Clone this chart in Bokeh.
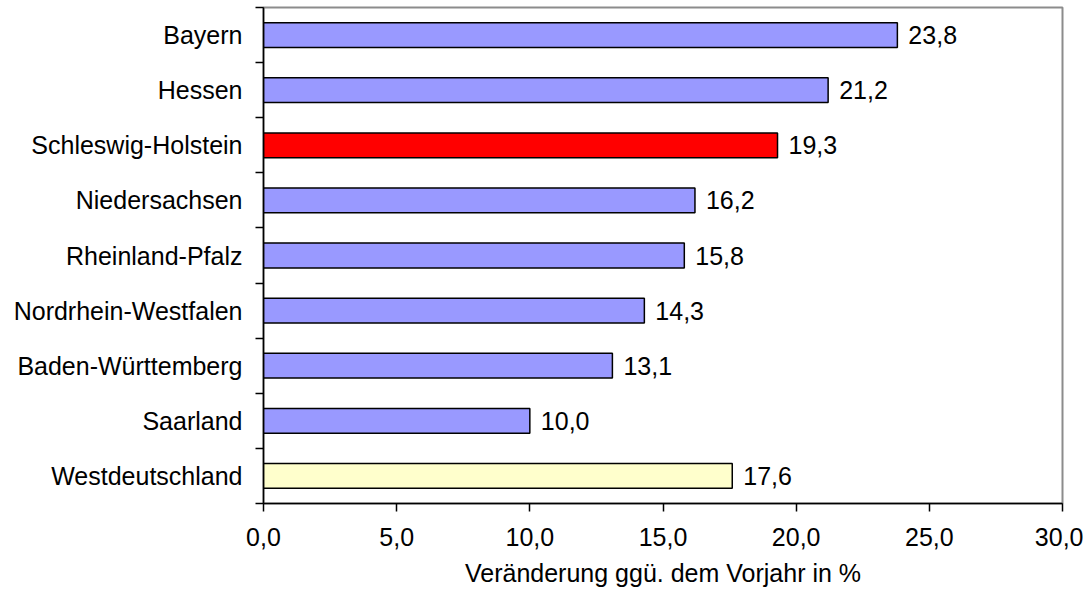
from bokeh.plotting import figure
from bokeh.models import ColumnDataSource, FixedTicker, CustomJSTickFormatter, Range1d
from bokeh.embed import file_html
from bokeh.resources import INLINE
from bokeh.core.properties import value

# Data (top to bottom)
states = ["Bayern", "Hessen", "Schleswig-Holstein", "Niedersachsen", "Rheinland-Pfalz",
          "Nordrhein-Westfalen", "Baden-Württemberg", "Saarland", "Westdeutschland"]
changes = [23.8, 21.2, 19.3, 16.2, 15.8, 14.3, 13.1, 10.0, 17.6]
colors = ["#9999FF", "#9999FF", "#FF0000", "#9999FF", "#9999FF",
          "#9999FF", "#9999FF", "#9999FF", "#FFFFCC"]
x_ticks = [0, 5, 10, 15, 20, 25, 30]
x_title = "Veränderung ggü. dem Vorjahr in %"

n = len(states)
ypos = [n - 1 - i + 0.5 for i in range(n)]
labels = [f"{v:.1f}".replace(".", ",") for v in changes]

src = ColumnDataSource(dict(state=states, val=changes, y=ypos, color=colors, lab=labels))

FONT = "Liberation Sans"
FS = "25px"

p = figure(width=1083, height=592, output_backend="svg", toolbar_location=None,
           x_range=Range1d(0, 30), y_range=Range1d(0, n),
           min_border_left=263, min_border_right=21, min_border_top=7, min_border_bottom=89)

p.hbar(y="y", right="val", left=0, height=0.45, fill_color="color",
       line_color="black", line_width=1.5, source=src)

p.text(x="val", y="y", text="lab", x_offset=11, text_baseline="middle", text_align="left",
       text_font=value(FONT), text_font_size=FS, text_color="black", source=src)

p.xgrid.visible = False
p.ygrid.visible = False
p.outline_line_color = "#8c8c8c"
p.outline_line_width = 2
p.background_fill_color = "white"
p.border_fill_color = "white"

# x axis
xa = p.xaxis[0]
xa.ticker = FixedTicker(ticks=x_ticks)
xa.formatter = CustomJSTickFormatter(code="return tick.toFixed(1).replace('.', ',');")
xa.major_tick_out = 8
xa.major_tick_in = 0
xa.minor_tick_out = 0
xa.minor_tick_in = 0
xa.axis_line_color = "black"
xa.axis_line_width = 1.5
xa.major_tick_line_color = "black"
xa.major_tick_line_width = 1.5
xa.major_label_text_font = FONT
xa.major_label_text_font_size = FS
xa.major_label_text_color = "black"
xa.major_label_standoff = 16
xa.axis_label = x_title
xa.axis_label_text_font = FONT
xa.axis_label_text_font_size = FS
xa.axis_label_text_font_style = "normal"
xa.axis_label_text_color = "black"
xa.axis_label_standoff = 10

# y axis: labels at band centres, ticks at band boundaries
ya = p.yaxis[0]
ya.ticker = FixedTicker(ticks=ypos, minor_ticks=list(range(n + 1)))
ya.major_label_overrides = {y: s for y, s in zip(ypos, states)}
ya.major_tick_out = 0
ya.major_tick_in = 0
ya.minor_tick_out = 8
ya.minor_tick_in = 0
ya.minor_tick_line_color = "black"
ya.minor_tick_line_width = 1.5
ya.axis_line_color = "black"
ya.axis_line_width = 1.5
ya.major_label_text_font = FONT
ya.major_label_text_font_size = FS
ya.major_label_text_color = "black"
ya.major_label_standoff = 13

open("out.html", "w").write(file_html(p, INLINE))
